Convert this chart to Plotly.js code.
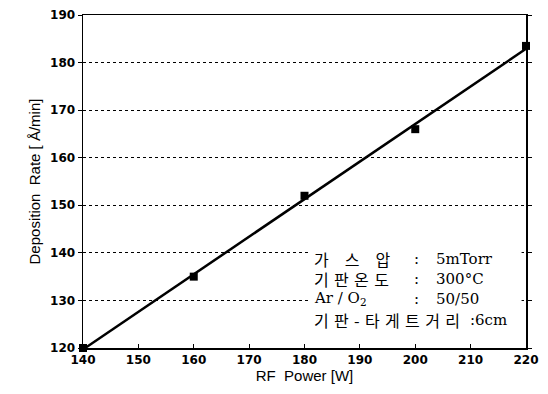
<!DOCTYPE html>
<html><head><meta charset="utf-8">
<script src="https://cdn.plot.ly/plotly-3.0.1.min.js"></script>
<style>html,body{margin:0;padding:0;background:#fff}</style>
</head><body>
<div id="chart" style="width:548px;height:394px"></div>
<script>
const power = [140, 160, 180, 200, 220];
const rate = [120, 135, 152, 166, 183.5];
const xTicks = [140, 150, 160, 170, 180, 190, 200, 210, 220];
const yTicks = [120, 130, 140, 150, 160, 170, 180, 190];
const noteLabels = ['가\u2003스\u2003압', '기\u2004판\u2004온\u2004도', 'Ar / O<sub>2</sub>', '기\u2004판\u2004-\u2004타\u2004게\u2004트\u2004거\u2004리'];
const noteValues = ['5mTorr', '300°C', '50/50', '6cm'];

// least-squares fit line
const n = power.length;
const mx = power.reduce((a,b)=>a+b,0)/n, my = rate.reduce((a,b)=>a+b,0)/n;
let sxy=0, sxx=0;
for (let i=0;i<n;i++){ sxy+=(power[i]-mx)*(rate[i]-my); sxx+=(power[i]-mx)**2; }
const slope = sxy/sxx, icpt = my - slope*mx;
const fitX = [power[0], power[n-1]];
const fitY = fitX.map(x => icpt + slope*x);

const tickFont = {family: 'DejaVu Sans', size: 12, color: '#000', weight: 'bold'};
const data = [
  {x: fitX, y: fitY, mode: 'lines', line: {color: '#000', width: 2.5}, showlegend: false, hoverinfo: 'skip'},
  {x: power, y: rate, mode: 'markers', marker: {symbol: 'square', size: 8, color: '#000'}, showlegend: false, cliponaxis: false}
];

const cjk = {family: 'Noto Sans CJK KR, sans-serif', size: 16, color: '#000'};
const serif = {family: 'DejaVu Serif, Liberation Serif, serif', size: 15, color: '#000'};
const rowY = [0.266, 0.208, 0.148, 0.084];
const ann = [];
noteLabels.forEach((lab, i) => {
  const isLast = i === noteLabels.length - 1;
  const f = (i === 2) ? serif : cjk;
  ann.push({xref: 'paper', yref: 'paper', x: 0.519, y: rowY[i], xanchor: 'left', yanchor: 'middle',
    text: lab, showarrow: false, font: f, borderpad: 0});
  if (isLast) {
    ann.push({xref: 'paper', yref: 'paper', x: 0.872, y: rowY[i], xanchor: 'left', yanchor: 'middle',
      text: ':' + noteValues[i], showarrow: false, font: serif, borderpad: 0});
  } else {
    ann.push({xref: 'paper', yref: 'paper', x: 0.745, y: rowY[i], xanchor: 'left', yanchor: 'middle',
      text: ':', showarrow: false, font: serif, borderpad: 0});
    ann.push({xref: 'paper', yref: 'paper', x: 0.795, y: rowY[i], xanchor: 'left', yanchor: 'middle',
      text: noteValues[i], showarrow: false, font: serif, borderpad: 0});
  }
});

const layout = {
  width: 548, height: 394,
  margin: {l: 83, r: 22, t: 15, b: 46},
  paper_bgcolor: '#fff', plot_bgcolor: '#fff',
  showlegend: false,
  xaxis: {range: [140, 220], tickvals: xTicks,
    ticks: 'inside', ticklen: 4, tickwidth: 1, tickcolor: '#000',
    showline: true, linecolor: '#000', linewidth: 1.5, mirror: true, showgrid: false, zeroline: false,
    tickfont: tickFont, title: {text: 'RF  Power [W]', font: {family: 'Liberation Sans, Arial, sans-serif', size: 15, color: '#000'}, standoff: 4}},
  yaxis: {range: [120, 190], tickvals: yTicks,
    ticks: 'outside', ticklen: 4, tickwidth: 1, tickcolor: '#000',
    showline: true, linecolor: '#000', linewidth: 1.5, mirror: 'ticks', showgrid: true, gridcolor: '#000', griddash: 'dot', gridwidth: 1,
    zeroline: false, tickfont: tickFont,
    title: {text: 'Deposition  Rate [ Å/min]', font: {family: 'Liberation Sans, Arial, sans-serif', size: 15, color: '#000'}, standoff: 6}},
  shapes: [{type: 'rect', xref: 'paper', yref: 'paper', x0: 0.508, x1: 0.99, y0: 0.055, y1: 0.31,
    fillcolor: '#fff', line: {width: 0}, layer: 'above'}],
  annotations: ann
};
Plotly.newPlot('chart', data, layout, {displayModeBar: false, staticPlot: true});
</script>
</body></html>
